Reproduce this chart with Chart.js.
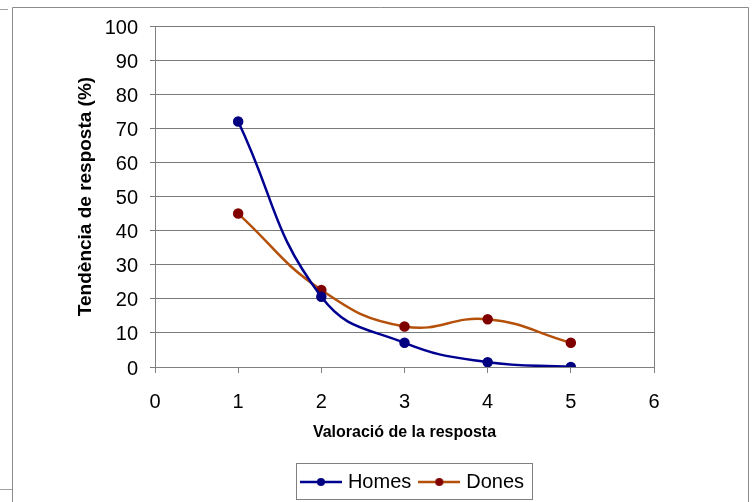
<!DOCTYPE html>
<html>
<head>
<meta charset="utf-8">
<script src="https://cdn.jsdelivr.net/npm/chart.js@4/dist/chart.umd.min.js"></script>
<style>
  html, body { margin: 0; padding: 0; background: #fff; }
  #wrap { position: relative; width: 752px; height: 502px; }
</style>
</head>
<body>
<div id="wrap"><canvas id="c" width="752" height="502"></canvas></div>
<script>
// Valoració (1–5) and response tendency (%) per group
const valoracio = [1, 2, 3, 4, 5];
const homes = [72, 20.6, 7.1, 1.4, 0];
const dones = [45, 22.6, 11.9, 14, 7.1];
const xTicks = [0, 1, 2, 3, 4, 5, 6];
const yTicks = [0, 10, 20, 30, 40, 50, 60, 70, 80, 90, 100];

const seriesNames = ['Homes', 'Dones'];
const lineColors = ['#000090', '#b4500a'];
const markColors = ['#000080', '#800000'];

const FONT = "'Liberation Sans', Arial, sans-serif";

function pairs(xs, ys) { return xs.map((x, i) => ({ x: x, y: ys[i] })); }

// small line-with-dot icons for the legend
function legendIcon(lineColor, dotColor) {
  const c = document.createElement('canvas');
  c.width = 42; c.height = 10;
  const g = c.getContext('2d');
  g.strokeStyle = lineColor; g.lineWidth = 2.5;
  g.beginPath(); g.moveTo(0, 5); g.lineTo(42, 5); g.stroke();
  g.fillStyle = dotColor;
  g.beginPath(); g.arc(21, 5, 4, 0, Math.PI * 2); g.fill();
  return c;
}
const icons = [legendIcon(lineColors[0], markColors[0]), legendIcon(lineColors[1], markColors[1])];

// sheet frame and legend frame
const framePlugin = {
  id: 'frames',
  beforeDraw(chart) {
    const lg = chart.legend;
    if (lg) {
      const w = lg.right - lg.left;
      lg.left = 414 - w / 2;
      lg.right = 414 + w / 2;
    }
    const ctx = chart.ctx;
    ctx.save();
    ctx.lineWidth = 1;
    ctx.strokeStyle = '#8c8c8c';
    ctx.beginPath();
    ctx.moveTo(12.5, 502); ctx.lineTo(12.5, 7.5); ctx.lineTo(748.5, 7.5); ctx.lineTo(748.5, 502);
    ctx.stroke();
    ctx.strokeStyle = '#a0a0a0';
    ctx.beginPath();
    ctx.moveTo(0, 9.5); ctx.lineTo(8, 9.5);
    ctx.moveTo(0, 489.5); ctx.lineTo(12, 489.5);
    ctx.stroke();
    ctx.restore();
  },
  afterDraw(chart) {
    const lg = chart.legend;
    if (!lg) return;
    const ctx = chart.ctx;
    const cx = (lg.left + lg.right) / 2;
    ctx.save();
    ctx.strokeStyle = '#808080';
    ctx.lineWidth = 1;
    ctx.strokeRect(Math.round(cx - 118) + 0.5, Math.round(lg.top + 2) + 0.5, 236, 36);
    ctx.restore();
  }
};

new Chart(document.getElementById('c'), {
  type: 'line',
  data: {
    datasets: [
      {
        label: seriesNames[0],
        data: pairs(valoracio, homes),
        borderColor: lineColors[0],
        backgroundColor: markColors[0],
        pointBackgroundColor: markColors[0],
        pointBorderColor: markColors[0],
        borderWidth: 2.5,
        pointRadius: 4,
        tension: 0.45,
        fill: false
      },
      {
        label: seriesNames[1],
        data: pairs(valoracio, dones),
        borderColor: lineColors[1],
        backgroundColor: markColors[1],
        pointBackgroundColor: markColors[1],
        pointBorderColor: markColors[1],
        borderWidth: 2.5,
        pointRadius: 4,
        tension: 0.45,
        fill: false
      }
    ]
  },
  options: {
    responsive: false,
    animation: false,
    layout: { padding: { left: 74, right: 98, top: 26, bottom: 0 } },
    scales: {
      x: {
        type: 'linear',
        min: xTicks[0],
        max: xTicks[xTicks.length - 1],
        afterBuildTicks(scale) { scale.ticks = xTicks.map(v => ({ value: v })); },
        afterFit(scale) { scale.height = 94; },
        border: { color: '#808080', width: 1 },
        grid: {
          drawOnChartArea: true,
          color: c => (c.tick && c.tick.value === xTicks[xTicks.length - 1]) ? '#808080' : 'rgba(0,0,0,0)',
          tickColor: '#808080',
          tickLength: 6
        },
        ticks: { color: '#000', padding: 17, font: { family: FONT, size: 20 } },
        title: {
          display: true,
          text: 'Valoració de la resposta',
          color: '#000',
          padding: { top: 0, bottom: 19 },
          font: { family: FONT, size: 16, weight: 'bold' }
        }
      },
      y: {
        min: yTicks[0],
        max: yTicks[yTicks.length - 1],
        afterBuildTicks(scale) { scale.ticks = yTicks.map(v => ({ value: v })); },
        afterFit(scale) { scale.width = 81; },
        border: { color: '#808080', width: 1 },
        grid: { color: '#7a7a7a', tickColor: '#7a7a7a', tickLength: 5 },
        ticks: { color: '#000', padding: 12, labelOffset: 2, font: { family: FONT, size: 20 } },
        title: {
          display: true,
          text: 'Tendència de resposta (%)',
          color: '#000',
          padding: { top: 0, bottom: 0 },
          font: { family: FONT, size: 19, weight: 'bold' }
        }
      }
    },
    plugins: {
      tooltip: { enabled: false },
      legend: {
        position: 'bottom',
        labels: {
          usePointStyle: true,
          pointStyleWidth: 34,
          padding: 11,
          color: '#000',
          font: { family: FONT, size: 20 },
          generateLabels(chart) {
            const items = Chart.defaults.plugins.legend.labels.generateLabels(chart);
            items.forEach(it => { it.pointStyle = icons[it.datasetIndex]; });
            return items;
          }
        }
      }
    }
  },
  plugins: [framePlugin]
});
</script>
</body>
</html>
